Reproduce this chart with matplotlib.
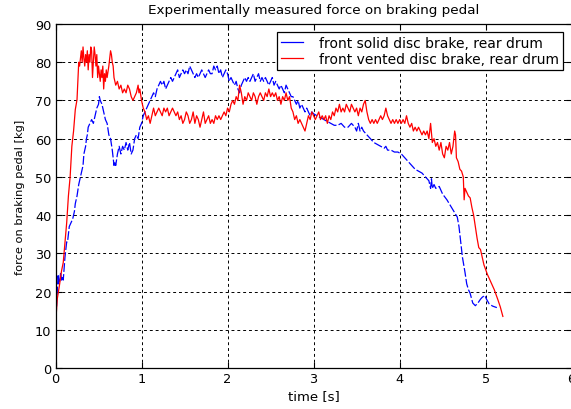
import matplotlib
matplotlib.use("Agg")
import matplotlib.pyplot as plt

# ---- data ----
t_vented = [0.00, 0.01, 0.02, 0.045, 0.07, 0.09, 0.11, 0.13, 0.15, 0.17, 0.19, 0.21, 0.23, 0.25, 0.26, 0.27,
            0.28, 0.29, 0.30, 0.31, 0.32, 0.33, 0.34, 0.35, 0.36, 0.37, 0.38, 0.39, 0.40, 0.41, 0.42, 0.43,
            0.44, 0.45, 0.46, 0.47, 0.48, 0.49, 0.50, 0.52, 0.53, 0.54, 0.55, 0.56, 0.57, 0.58, 0.59, 0.60,
            0.62, 0.64, 0.65, 0.66, 0.67, 0.68, 0.70, 0.72, 0.74, 0.76, 0.78, 0.80, 0.82, 0.84, 0.86, 0.88,
            0.90, 0.92, 0.94, 0.96, 0.97, 0.98, 1.00, 1.02, 1.04, 1.06, 1.08, 1.10, 1.12, 1.14, 1.16, 1.18,
            1.20, 1.22, 1.24, 1.26, 1.28, 1.30, 1.32, 1.34, 1.36, 1.38, 1.40, 1.42, 1.44, 1.46, 1.48, 1.50,
            1.52, 1.54, 1.56, 1.58, 1.60, 1.62, 1.64, 1.66, 1.68, 1.70, 1.72, 1.74, 1.76, 1.78, 1.80, 1.82,
            1.84, 1.86, 1.88, 1.90, 1.92, 1.94, 1.96, 1.98, 2.00, 2.02, 2.04, 2.06, 2.08, 2.10, 2.12, 2.14,
            2.16, 2.18, 2.20, 2.22, 2.24, 2.26, 2.28, 2.30, 2.32, 2.34, 2.36, 2.38, 2.40, 2.42, 2.44, 2.46,
            2.48, 2.50, 2.52, 2.54, 2.56, 2.58, 2.60, 2.62, 2.64, 2.66, 2.68, 2.70, 2.72, 2.74, 2.76, 2.78,
            2.80, 2.82, 2.84, 2.86, 2.88, 2.90, 2.92, 2.94, 2.96, 2.98, 3.00, 3.02, 3.04, 3.06, 3.08, 3.10,
            3.12, 3.14, 3.16, 3.18, 3.20, 3.22, 3.24, 3.26, 3.28, 3.30, 3.32, 3.34, 3.36, 3.38, 3.40, 3.42,
            3.44, 3.46, 3.48, 3.50, 3.52, 3.54, 3.56, 3.58, 3.60, 3.62, 3.64, 3.66, 3.68, 3.70, 3.72, 3.74,
            3.76, 3.78, 3.80, 3.82, 3.84, 3.86, 3.88, 3.90, 3.92, 3.94, 3.96, 3.98, 4.00, 4.02, 4.04, 4.06,
            4.08, 4.10, 4.12, 4.14, 4.16, 4.18, 4.20, 4.22, 4.24, 4.26, 4.28, 4.30, 4.32, 4.34, 4.36, 4.38,
            4.40, 4.42, 4.44, 4.46, 4.48, 4.50, 4.52, 4.54, 4.56, 4.58, 4.60, 4.62, 4.64, 4.65, 4.66, 4.68,
            4.70, 4.72, 4.74, 4.75, 4.76, 4.78, 4.80, 4.82, 4.84, 4.86, 4.88, 4.90, 4.92, 4.94, 4.96, 4.98,
            5.02, 5.06, 5.10, 5.14, 5.17, 5.20]
f_vented = [9.7, 14.5, 18.0, 21.5, 25.4, 27.6, 32.8, 38.0, 45.0, 50.0, 58.0, 62.0, 67.6, 70.2, 75.0, 80.0,
            79.0, 81.0, 83.0, 80.0, 84.0, 81.0, 79.0, 82.0, 80.0, 83.0, 78.0, 82.0, 80.0, 84.0, 83.0, 76.0,
            80.0, 84.0, 82.0, 79.0, 82.0, 76.0, 79.0, 75.0, 78.0, 76.0, 79.0, 73.0, 77.0, 75.0, 78.0, 76.0,
            79.0, 83.0, 82.0, 80.0, 79.0, 76.0, 74.0, 75.0, 73.0, 74.0, 72.0, 73.0, 72.0, 74.0, 73.0, 71.0,
            70.0, 71.0, 72.0, 74.0, 72.0, 73.0, 70.0, 68.0, 67.0, 65.0, 66.0, 64.0, 66.0, 68.0, 66.0, 67.0,
            68.0, 67.0, 66.0, 68.0, 67.0, 68.0, 66.0, 67.0, 68.0, 67.0, 66.0, 67.0, 65.0, 66.0, 64.0, 65.0,
            67.0, 66.0, 64.0, 65.0, 67.0, 64.0, 66.0, 65.0, 63.0, 65.0, 67.0, 64.0, 65.0, 66.0, 64.0, 65.0,
            64.0, 66.0, 65.0, 66.0, 65.0, 66.0, 67.0, 66.0, 68.0, 67.0, 69.0, 70.0, 69.0, 71.0, 70.0, 74.0,
            72.0, 69.0, 71.0, 70.0, 72.0, 71.0, 70.0, 72.0, 71.0, 69.0, 71.0, 72.0, 71.0, 70.0, 72.0, 71.0,
            73.0, 71.0, 72.0, 71.0, 72.0, 70.0, 71.0, 69.0, 71.0, 70.0, 72.0, 70.0, 71.0, 68.0, 67.0, 65.0,
            66.0, 64.0, 65.0, 64.0, 63.0, 62.0, 64.0, 66.0, 65.0, 67.0, 66.0, 65.0, 66.0, 67.0, 65.0, 66.0,
            65.0, 66.0, 64.0, 66.0, 65.0, 67.0, 66.0, 68.0, 67.0, 69.0, 67.0, 68.0, 67.0, 69.0, 68.0, 67.0,
            69.0, 68.0, 67.0, 68.0, 66.0, 68.0, 67.0, 69.0, 70.0, 67.0, 65.0, 64.0, 65.0, 64.0, 65.0, 64.0,
            65.0, 66.0, 65.0, 66.0, 68.0, 66.0, 65.0, 64.0, 65.0, 64.0, 65.0, 64.0, 65.0, 64.0, 65.0, 64.0,
            66.0, 64.0, 63.0, 64.0, 62.0, 63.0, 62.0, 63.0, 62.0, 61.0, 62.0, 61.0, 62.0, 60.0, 64.0, 59.0,
            60.0, 58.0, 59.0, 57.0, 59.0, 56.0, 55.0, 58.0, 57.0, 59.0, 56.0, 58.0, 62.0, 61.0, 55.0, 54.0,
            52.0, 51.5, 50.0, 44.0, 47.0, 46.0, 45.0, 44.5, 42.0, 40.0, 37.0, 34.0, 31.5, 31.0, 29.0, 27.0,
            24.5, 22.5, 20.5, 18.0, 16.0, 13.5]

t_solid = [0.00, 0.01, 0.02, 0.03, 0.04, 0.05, 0.06, 0.07, 0.08, 0.09, 0.10, 0.11, 0.12, 0.13, 0.14, 0.15,
           0.16, 0.18, 0.20, 0.22, 0.23, 0.25, 0.27, 0.29, 0.31, 0.32, 0.33, 0.35, 0.36, 0.37, 0.38, 0.40,
           0.42, 0.44, 0.46, 0.48, 0.50, 0.51, 0.52, 0.54, 0.56, 0.58, 0.60, 0.62, 0.64, 0.66, 0.67, 0.68,
           0.69, 0.70, 0.72, 0.74, 0.76, 0.78, 0.80, 0.82, 0.84, 0.86, 0.88, 0.90, 0.92, 0.94, 0.96, 0.98,
           1.00, 1.02, 1.04, 1.06, 1.08, 1.10, 1.12, 1.14, 1.16, 1.18, 1.20, 1.22, 1.24, 1.26, 1.28, 1.30,
           1.32, 1.34, 1.36, 1.38, 1.40, 1.42, 1.44, 1.46, 1.48, 1.50, 1.52, 1.54, 1.56, 1.58, 1.60, 1.62,
           1.64, 1.66, 1.68, 1.70, 1.72, 1.74, 1.76, 1.78, 1.80, 1.82, 1.84, 1.86, 1.88, 1.90, 1.92, 1.94,
           1.96, 1.98, 2.00, 2.02, 2.04, 2.06, 2.08, 2.10, 2.12, 2.14, 2.16, 2.18, 2.20, 2.22, 2.24, 2.26,
           2.28, 2.30, 2.32, 2.34, 2.36, 2.38, 2.40, 2.42, 2.44, 2.46, 2.48, 2.50, 2.52, 2.54, 2.56, 2.58,
           2.60, 2.62, 2.64, 2.66, 2.68, 2.70, 2.72, 2.74, 2.76, 2.78, 2.80, 2.82, 2.84, 2.86, 2.88, 2.90,
           2.92, 2.94, 2.96, 2.98, 3.00, 3.04, 3.08, 3.12, 3.16, 3.20, 3.24, 3.28, 3.32, 3.36, 3.40, 3.44,
           3.48, 3.50, 3.52, 3.54, 3.56, 3.58, 3.62, 3.66, 3.70, 3.74, 3.78, 3.82, 3.84, 3.86, 3.90, 3.94,
           3.98, 4.02, 4.06, 4.10, 4.14, 4.18, 4.22, 4.26, 4.30, 4.34, 4.36, 4.37, 4.38, 4.40, 4.42, 4.46,
           4.50, 4.55, 4.59, 4.63, 4.67, 4.69, 4.71, 4.73, 4.76, 4.78, 4.80, 4.82, 4.85, 4.88, 4.91, 4.94,
           4.96, 4.99, 5.01, 5.04, 5.08, 5.13]
f_solid = [7.5, 15.0, 20.0, 24.5, 22.0, 23.0, 25.0, 23.0, 24.0, 23.0, 26.0, 29.0, 31.0, 33.0, 33.0, 35.0,
           37.0, 38.0, 39.0, 41.0, 43.0, 45.0, 48.0, 50.0, 52.0, 53.0, 56.0, 58.0, 60.0, 61.0, 63.0, 64.0,
           65.0, 64.0, 66.0, 68.0, 69.0, 71.0, 70.0, 69.0, 67.0, 65.0, 64.0, 61.0, 60.0, 57.0, 55.0, 53.0,
           54.0, 53.0, 56.0, 58.0, 56.0, 58.0, 57.0, 59.0, 57.0, 59.0, 56.0, 57.0, 60.0, 61.0, 60.0, 63.0,
           64.0, 66.0, 67.0, 68.0, 69.0, 70.0, 71.0, 72.0, 71.0, 73.0, 74.0, 75.0, 74.0, 75.0, 73.0, 74.0,
           75.0, 76.0, 75.0, 76.0, 77.0, 78.0, 76.0, 77.0, 78.0, 77.0, 78.0, 77.0, 79.0, 78.0, 77.0, 76.0,
           77.0, 76.0, 77.0, 78.0, 77.0, 76.0, 77.0, 78.0, 77.0, 77.0, 79.0, 78.0, 79.0, 77.0, 78.0, 76.0,
           77.0, 78.0, 77.0, 75.0, 76.0, 75.0, 74.0, 75.0, 73.0, 72.0, 74.0, 75.0, 76.0, 75.0, 76.0, 75.0,
           76.0, 77.0, 75.0, 76.0, 77.0, 75.0, 76.0, 75.0, 76.0, 75.0, 74.0, 75.0, 76.0, 74.0, 75.0, 74.0,
           73.0, 74.0, 73.0, 72.0, 74.0, 73.0, 72.0, 71.0, 71.0, 70.0, 69.0, 70.0, 68.0, 69.0, 68.0, 67.0,
           68.0, 67.0, 66.0, 67.0, 66.5, 66.0, 65.5, 65.0, 64.5, 64.0, 63.5, 63.5, 64.0, 63.0, 63.0, 64.0,
           63.0, 62.0, 64.0, 62.0, 63.0, 62.0, 61.0, 60.0, 59.0, 58.5, 58.0, 57.5, 58.0, 57.0, 57.0, 56.5,
           56.5, 56.0, 55.0, 54.0, 53.0, 52.0, 51.5, 51.0, 50.0, 49.0, 47.0, 49.5, 47.0, 48.0, 47.0, 47.5,
           45.5, 44.0, 42.5, 41.0, 39.5, 37.0, 33.0, 29.0, 25.0, 22.0, 20.5, 19.5, 17.0, 16.3, 17.0, 18.0,
           18.5, 19.0, 18.0, 16.8, 16.2, 15.8]

x_ticks = [0, 1, 2, 3, 4, 5, 6]
y_ticks = [0, 10, 20, 30, 40, 50, 60, 70, 80, 90]
labels = ["front solid disc brake, rear drum", "front vented disc brake, rear drum"]
title = "Experimentally measured force on braking pedal"
xlabel = "time [s]"
ylabel = "force on braking pedal [kg]"

plt.rcParams['font.family'] = ['DejaVu Sans']
fig = plt.figure(figsize=(5.71, 4.10), dpi=100)
ax = fig.add_axes([0.0972, 0.100, 0.904, 0.839])

ax.plot(t_solid, f_solid, color='#0000ff', lw=0.9, linestyle=(0, (7, 1.8)), label=labels[0])
ax.plot(t_vented, f_vented, color='#ff0000', lw=0.9, label=labels[1])

ax.set_xlim(0, 6)
ax.set_ylim(0, 90)
ax.set_xticks(x_ticks)
ax.set_yticks(y_ticks)
ax.tick_params(direction='in', top=True, right=True, labelsize=9.3, length=4, width=0.8, pad=3)
ax.grid(True, color='black', linestyle=(0, (3, 3)), linewidth=0.7)
for s in ax.spines.values():
    s.set_linewidth(0.9)
    s.set_color('black')

ax.set_title(title, fontsize=9.7, pad=8)
ax.set_xlabel(xlabel, fontsize=9.5, labelpad=3)
ax.set_ylabel(ylabel, fontsize=8.2, labelpad=7)

leg = ax.legend(loc='upper right', bbox_to_anchor=(0.983, 0.977), fontsize=10,
                fancybox=False, edgecolor='black', framealpha=1, borderaxespad=0,
                handlelength=1.6, handletextpad=1.1, borderpad=0.3, labelspacing=0.15)
leg.get_frame().set_linewidth(0.9)
for line in leg.get_lines():
    line.set_linestyle('-')

fig.savefig("out.png", dpi=100)
